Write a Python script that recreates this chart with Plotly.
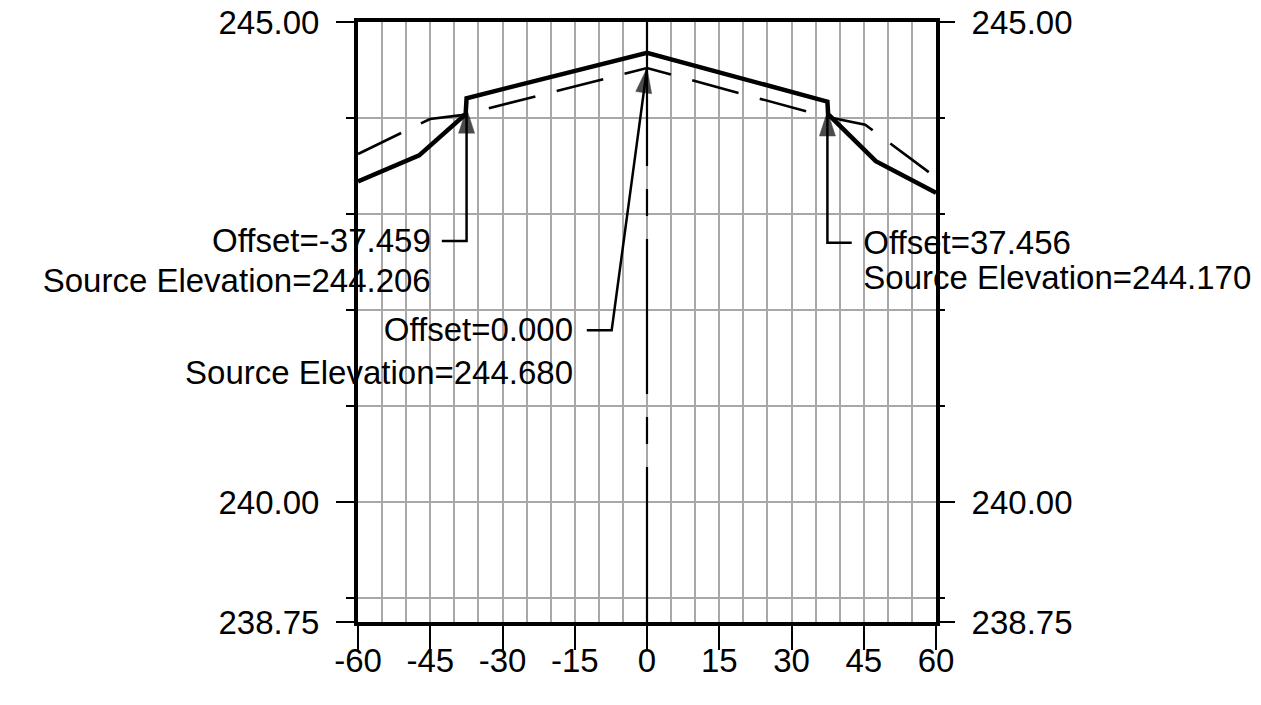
import plotly.graph_objects as go

# ---- data ----
x_range = [-60, 60]
y_range = [238.75, 245.00]
x_ticks = [-60, -45, -30, -15, 0, 15, 30, 45, 60]
x_tick_labels = ["-60", "-45", "-30", "-15", "0", "15", "30", "45", "60"]
y_major_ticks = [238.75, 240.00, 245.00]
y_major_labels = ["238.75", "240.00", "245.00"]
y_minor_ticks = [239, 241, 242, 243, 244]

# solid profile (design)
solid_offset = [-60, -47.3, -37.65, -37.459, 0.0, 37.456, 37.6, 47.5, 60]
solid_elev = [243.34, 243.61, 244.04, 244.206, 244.68, 244.17, 244.04, 243.55, 243.22]

# dashed profile (existing ground)
dashed_offset = [-60, -45.05, -38.5, 0.0, 37.5, 45.3, 60]
dashed_elev = [243.625, 243.99, 244.03, 244.52, 244.01, 243.93, 243.38]

# annotations: leader lines
ann_offset = [-37.459, 0.000, 37.456]
ann_source_elev = [244.206, 244.680, 244.170]
ann_tip_elev = [244.10, 244.52, 244.07]
ann_bend_offset = [-37.459, -7.33, 37.456]
ann_bend_elev = [242.72, 241.79, 242.70]
ann_leader_end = [-42.6, -12.5, 42.5]
ann_text_x = [-44.9, -15.35, 44.9]
ann_text_y1 = [242.69, 241.76, 242.67]
ann_text_y2 = [242.27, 241.32, 242.30]
ann_side = ["left", "left", "right"]

FONT = "Arial, Liberation Sans, sans-serif"
FS = 33

fig = go.Figure()

# centre line
fig.add_trace(go.Scatter(x=[0, 0], y=[y_range[0], y_range[1]], mode="lines",
                         line=dict(color="black", width=2.2, dash="155px,23px,27px,23px"),
                         hoverinfo="skip", showlegend=False))

fig.add_trace(go.Scatter(x=dashed_offset, y=dashed_elev, mode="lines",
                         line=dict(color="black", width=2.6, dash="48px,22px"),
                         showlegend=False))
fig.add_trace(go.Scatter(x=solid_offset, y=solid_elev, mode="lines",
                         line=dict(color="black", width=4.5),
                         showlegend=False))

for i in range(len(ann_offset)):
    xs = [ann_leader_end[i], ann_bend_offset[i], ann_offset[i]]
    ys = [ann_bend_elev[i], ann_bend_elev[i], ann_tip_elev[i]]
    fig.add_trace(go.Scatter(x=xs, y=ys, mode="lines+markers",
                             line=dict(color="black", width=2.5),
                             marker=dict(symbol="arrow", size=[0, 0, 26], color="black",
                                         angleref="previous", line=dict(width=0.5, color="black")),
                             cliponaxis=False, showlegend=False, hoverinfo="skip"))
    pos = "middle left" if ann_side[i] == "left" else "middle right"
    fig.add_trace(go.Scatter(
        x=[ann_text_x[i], ann_text_x[i]], y=[ann_text_y1[i], ann_text_y2[i]],
        mode="text",
        text=["Offset=%.3f" % ann_offset[i], "Source Elevation=%.3f" % ann_source_elev[i]],
        textposition=pos, textfont=dict(family=FONT, size=FS, color="black"),
        cliponaxis=False, showlegend=False, hoverinfo="skip"))

# dummy trace for right axis
fig.add_trace(go.Scatter(x=[0], y=[240], yaxis="y2", mode="markers",
                         marker=dict(opacity=0), showlegend=False, hoverinfo="skip"))

grid_col = "#a8a8a8"
yaxis_common = dict(range=y_range, tickmode="array", tickvals=y_major_ticks,
                    ticktext=y_major_labels, ticks="outside", ticklen=18, tickwidth=1.5,
                    tickcolor="black", tickfont=dict(family=FONT, size=FS, color="black"),
                    zeroline=False, layer="above traces", automargin=False,
                    ticklabelstandoff=10)

fig.update_layout(
    width=1261, height=705,
    autosize=False,
    margin=dict(l=358, r=325, t=22, b=83, pad=0, autoexpand=False),
    paper_bgcolor="white", plot_bgcolor="white",
    showlegend=False,
    xaxis=dict(range=x_range, tickmode="array", tickvals=x_ticks, ticktext=x_tick_labels,
               ticks="outside", ticklen=24, tickwidth=1.5, tickcolor="black",
               tickfont=dict(family=FONT, size=FS, color="black"),
               showgrid=True, gridcolor=grid_col, gridwidth=1.5,
               minor=dict(dtick=5, tick0=0, showgrid=True, gridcolor=grid_col, gridwidth=1.5, ticks=""),
               showline=True, linecolor="black", linewidth=4, mirror=True,
               zeroline=False, layer="above traces", automargin=False,
               ticklabelstandoff=-18),
    yaxis=dict(**yaxis_common, side="left",
               showgrid=True, gridcolor=grid_col, gridwidth=1.5,
               minor=dict(tickmode="array", tickvals=y_minor_ticks, ticks="outside", ticklen=8,
                          tickwidth=1.5, tickcolor="black", showgrid=True,
                          gridcolor=grid_col, gridwidth=1.5),
               showline=True, linecolor="black", linewidth=4, mirror=True),
    yaxis2=dict(**yaxis_common, side="right", overlaying="y", showgrid=False,
                minor=dict(tickmode="array", tickvals=y_minor_ticks, ticks="outside", ticklen=8,
                           tickwidth=1.5, tickcolor="black", showgrid=False),
                showline=False),
)

fig.write_html("out.html",
               config={"displayModeBar": False},
               post_script="document.body.style.margin='0';document.body.style.overflow='hidden';")
